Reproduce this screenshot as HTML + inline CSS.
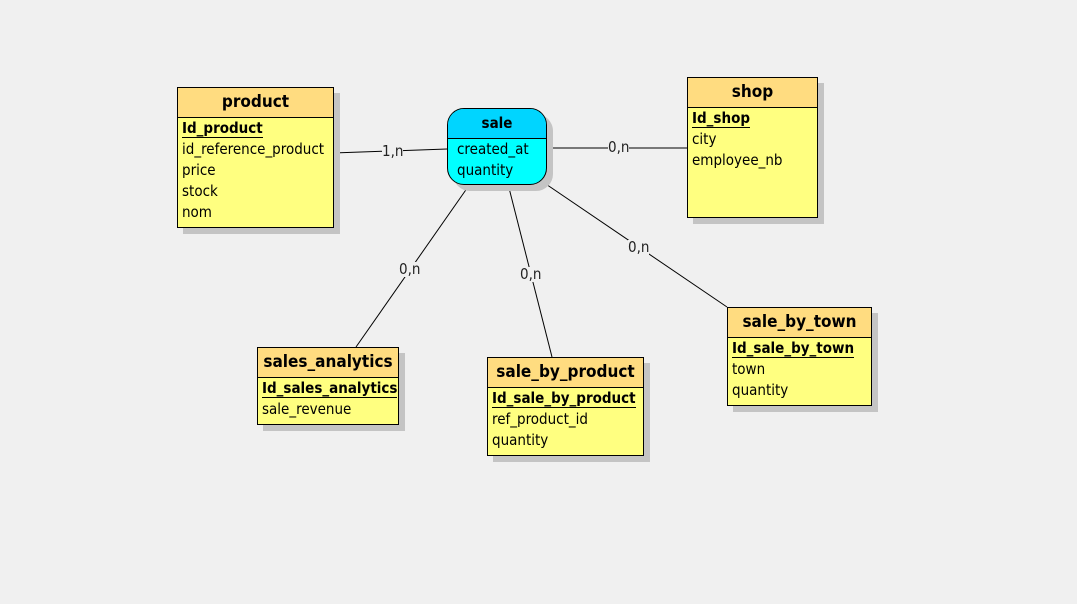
<!DOCTYPE html>
<html><head><meta charset="utf-8"><style>
body{margin:0;width:1077px;height:604px;background:#f0f0f0;position:relative;overflow:hidden;font-family:"DejaVu Sans Condensed","Liberation Sans",sans-serif;}
.e{position:absolute;box-sizing:border-box;border:1px solid #000;background:#ffff80;box-shadow:6px 6px 0 #c4c4c4;}
.h{height:29px;border-bottom:1px solid #000;background:#ffdc80;text-align:center;font-weight:bold;font-size:17px;line-height:29px;color:#000;}
.r{font-size:15px;height:21px;line-height:21px;padding-left:4px;color:#000;white-space:nowrap;}
.k{font-weight:bold;}
.k span{border-bottom:1.5px solid #000;line-height:17px;display:inline-block;}
.l{position:absolute;font-size:15px;color:#222;background:#f0f0f0;line-height:15px;}
svg{position:absolute;left:0;top:0;}
</style></head><body>
<svg width="1077" height="604">
<g stroke="#000" stroke-width="1" fill="none">
<line x1="333" y1="153" x2="447" y2="149"/>
<line x1="546" y1="148" x2="687" y2="148"/>
<line x1="470" y1="184" x2="356" y2="347"/>
<line x1="508" y1="184" x2="552" y2="357"/>
<line x1="537" y1="178" x2="727" y2="307"/>
</g></svg>
<div class="l" style="left:382px;top:144px">1,n</div>
<div class="l" style="left:608px;top:140px">0,n</div>
<div class="l" style="left:399px;top:262px">0,n</div>
<div class="l" style="left:520px;top:267px">0,n</div>
<div class="l" style="left:628px;top:240px">0,n</div>

<div class="e" style="left:177px;top:87px;width:157px;height:141px">
<div class="h">product</div>
<div class="r k"><span>Id_product</span></div>
<div class="r">id_reference_product</div>
<div class="r">price</div>
<div class="r">stock</div>
<div class="r">nom</div>
</div>

<div class="e" style="left:447px;top:108px;width:100px;height:77px;border-radius:17px;background:#00ffff;overflow:hidden">
<div class="h" style="background:#00d5ff;font-size:15px">sale</div>
<div class="r" style="padding-left:9px">created_at</div>
<div class="r" style="padding-left:9px">quantity</div>
</div>

<div class="e" style="left:687px;top:77px;width:131px;height:141px">
<div class="h">shop</div>
<div class="r k"><span>Id_shop</span></div>
<div class="r">city</div>
<div class="r">employee_nb</div>
</div>

<div class="e" style="left:257px;top:347px;width:142px;height:78px">
<div class="h">sales_analytics</div>
<div class="r k"><span>Id_sales_analytics</span></div>
<div class="r">sale_revenue</div>
</div>

<div class="e" style="left:487px;top:357px;width:157px;height:99px">
<div class="h">sale_by_product</div>
<div class="r k"><span>Id_sale_by_product</span></div>
<div class="r">ref_product_id</div>
<div class="r">quantity</div>
</div>

<div class="e" style="left:727px;top:307px;width:145px;height:99px">
<div class="h">sale_by_town</div>
<div class="r k"><span>Id_sale_by_town</span></div>
<div class="r">town</div>
<div class="r">quantity</div>
</div>
</body></html>
